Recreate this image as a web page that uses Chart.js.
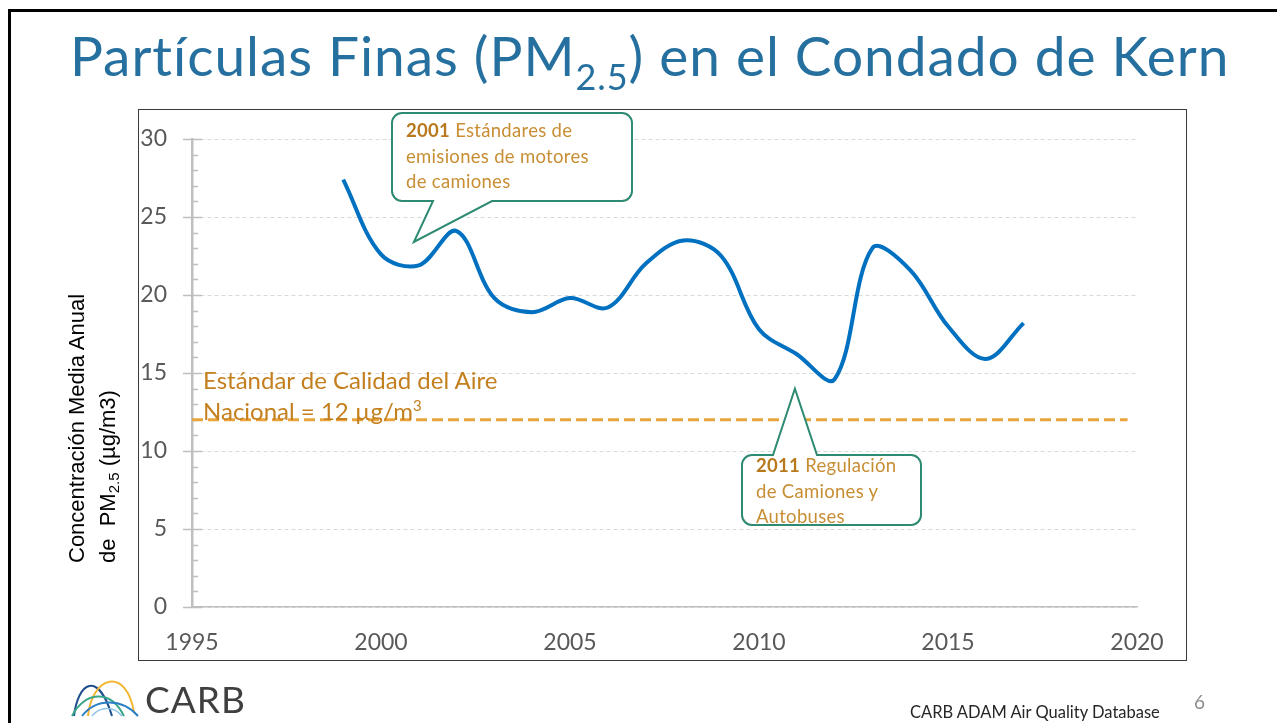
<!DOCTYPE html>
<html>
<head>
<meta charset="utf-8">
<script src="https://cdn.jsdelivr.net/npm/chart.js@4.4.1/dist/chart.umd.min.js"></script>
<style>
  html, body { margin: 0; padding: 0; background: #fff; }
  #slide { position: relative; width: 1277px; height: 723px; overflow: hidden; font-family: Lato, "Open Sans", sans-serif; }
  #myChart { position: absolute; left: 0; top: 0; }
  .abs { position: absolute; white-space: nowrap; }
  #frameTop { left: 8px; top: 9px; width: 1269px; height: 3px; background: #000; }
  #frameLeft { left: 8px; top: 9px; width: 3px; height: 714px; background: #000; }
  #chartBox { left: 138px; top: 109px; width: 1047px; height: 550px; border: 1px solid #3a3a3a; }
  #title { left: 70px; top: 22px; font-size: 55px; color: #26709f; font-weight: 400; letter-spacing: 0.95px; }
  #title sub { font-size: 36px; vertical-align: -14px; line-height: 0; }
  #yTitle { left: 61px; top: 563px; transform-origin: 0 0; transform: rotate(-90deg);
            font-family: "Liberation Sans", Arial, sans-serif; font-size: 22px; line-height: 31px; color: #000; }
  #yTitle sub { font-size: 15px; vertical-align: -4px; line-height: 0; }
  #stdNote { left: 203px; top: 364px; font-size: 24px; line-height: 31px; color: #c47f1e; }
  #stdNote sup { font-size: 15px; vertical-align: 9px; line-height: 0; }
  .note { font-size: 18.5px; line-height: 25.5px; color: #c88e34; letter-spacing: 0.3px; }
  .note b { color: #b8791c; font-weight: 700; }
  #note1 { left: 406px; top: 118px; }
  #note2 { left: 756px; top: 453px; }
  #carbText { left: 145px; top: 676px; font-size: 37px; color: #3f3f3f; letter-spacing: 1px; }
  #source { left: 910px; top: 702px; font-size: 16.5px; color: #262626; }
  #pageNum { left: 1194px; top: 690px; font-size: 19px; color: #8c8c8c; }
  #logo { left: 70px; top: 672px; }
</style>
</head>
<body>
<div id="slide">
  <div class="abs" id="frameTop"></div>
  <div class="abs" id="frameLeft"></div>
  <div class="abs" id="chartBox"></div>
  <canvas id="myChart" width="1277" height="723"></canvas>
  <div class="abs" id="title">Partículas Finas (PM<sub>2.5</sub>) en el Condado de Kern</div>
  <div class="abs" id="yTitle">Concentración Media Anual<br>de&nbsp; PM<sub>2.5</sub> (µg/m3)</div>
  <div class="abs" id="stdNote">Estándar de Calidad del Aire<br>Nacional = 12 µg/m<sup>3</sup></div>
  <div class="abs note" id="note1"><b>2001</b> Estándares de<br>emisiones de motores<br>de camiones</div>
  <div class="abs note" id="note2"><b>2011</b> Regulación<br>de Camiones y<br>Autobuses</div>
  <svg class="abs" id="logo" width="72" height="46" viewBox="0 0 72 46">
    <path d="M4 44 C 8 10, 28 -2, 42 44" fill="none" stroke="#1f4e8c" stroke-width="2"/>
    <path d="M18 44 C 22 4, 56 -6, 64 40" fill="none" stroke="#f2b632" stroke-width="2"/>
    <path d="M2 44 C 14 20, 40 16, 54 44" fill="none" stroke="#3aa68a" stroke-width="2"/>
    <path d="M12 44 C 26 26, 52 26, 68 44" fill="none" stroke="#2a7fc7" stroke-width="2"/>
    <path d="M22 44 C 30 34, 44 34, 52 44" fill="none" stroke="#8fc3e8" stroke-width="1.5"/>
  </svg>
  <div class="abs" id="carbText">CARB</div>
  <div class="abs" id="source">CARB ADAM Air Quality Database</div>
  <div class="abs" id="pageNum">6</div>
</div>

<script>
const years = [1999, 2000, 2001, 2002, 2003, 2004, 2005, 2006, 2007, 2008,
               2009, 2010, 2011, 2012, 2013, 2014, 2015, 2016, 2017];
const pm25 = [27.4, 22.6, 21.9, 24.1, 19.8, 18.9, 19.8, 19.2, 22.0, 23.5,
              22.5, 17.8, 16.2, 14.6, 23.0, 21.6, 18.0, 15.9, 18.2];
const standardYears = [1995, 2019.75];
const standardValues = [12, 12];
const yTicks = [0, 5, 10, 15, 20, 25, 30];
const xTicks = [1995, 2000, 2005, 2010, 2015, 2020];
// callout pointer tips (year, value)
const callouts = [
  {year: 2000.87, value: 23.4},
  {year: 2010.95, value: 14.0}
];

const tickFont = {family: 'Lato, "Open Sans", sans-serif', size: 23};

const axisDecor = {
  id: 'axisDecor',
  beforeDatasetsDraw(chart) {
    const ctx = chart.ctx;
    const y = chart.scales.y;
    const x0 = Math.round(y.left + y.width) ;
    ctx.save();
    ctx.strokeStyle = '#bfbfbf';
    ctx.lineWidth = 1.5;
    for (let v = 0; v <= 30; v++) {
      const py = Math.round(y.getPixelForValue(v)) + 0.5;
      ctx.beginPath();
      if (v % 5 === 0) {
        ctx.moveTo(x0 - 9, py);
        ctx.lineTo(x0 + 10, py);
      } else {
        ctx.moveTo(x0, py);
        ctx.lineTo(x0 + 6, py);
      }
      ctx.stroke();
    }
    ctx.restore();
  },
  afterDatasetsDraw(chart) {
    const ctx = chart.ctx;
    const sx = chart.scales.x, sy = chart.scales.y;
    const boxes = [
      {l: 392, t: 113, r: 632, b: 201, bl: 433, br: 492},
      {l: 742, t: 455, r: 921, b: 525, bl: 773, br: 817, top: true}
    ];
    ctx.save();
    ctx.strokeStyle = '#2e8a72';
    ctx.lineWidth = 2;
    ctx.fillStyle = '#ffffff';
    boxes.forEach((bx, i) => {
      const tx = sx.getPixelForValue(callouts[i].year);
      const ty = sy.getPixelForValue(callouts[i].value);
      const rad = 10;
      ctx.beginPath();
      ctx.moveTo(bx.l + rad, bx.t);
      if (bx.top) {
        ctx.lineTo(bx.bl, bx.t);
        ctx.lineTo(tx, ty);
        ctx.lineTo(bx.br, bx.t);
      }
      ctx.lineTo(bx.r - rad, bx.t);
      ctx.arcTo(bx.r, bx.t, bx.r, bx.t + rad, rad);
      ctx.lineTo(bx.r, bx.b - rad);
      ctx.arcTo(bx.r, bx.b, bx.r - rad, bx.b, rad);
      if (!bx.top) {
        ctx.lineTo(bx.br, bx.b);
        ctx.lineTo(tx, ty);
        ctx.lineTo(bx.bl, bx.b);
      }
      ctx.lineTo(bx.l + rad, bx.b);
      ctx.arcTo(bx.l, bx.b, bx.l, bx.b - rad, rad);
      ctx.lineTo(bx.l, bx.t + rad);
      ctx.arcTo(bx.l, bx.t, bx.l + rad, bx.t, rad);
      ctx.closePath();
      ctx.fill();
      ctx.stroke();
    });
    ctx.restore();
  }
};

const data = {
  datasets: [{
    label: 'PM2.5',
    data: years.map((yr, i) => ({x: yr, y: pm25[i]})),
    borderColor: '#0070c0',
    borderWidth: 4,
    pointRadius: 0,
    tension: 0.35,
    fill: false
  }, {
    label: 'Estándar',
    data: standardYears.map((yr, i) => ({x: yr, y: standardValues[i]})),
    borderColor: '#eaa43c',
    borderWidth: 3,
    borderDash: [11, 5],
    pointRadius: 0,
    fill: false
  }]
};

const config = {
  type: 'line',
  data: data,
  options: {
    responsive: false,
    devicePixelRatio: 1,
    animation: false,
    layout: {
      padding: {left: 0, top: 139, right: 140, bottom: 0}
    },
    plugins: {
      legend: {display: false},
      tooltip: {enabled: false}
    },
    scales: {
      x: {
        type: 'linear',
        min: 1995,
        max: 2020,
        afterBuildTicks: s => { s.ticks = xTicks.map(v => ({value: v})); },
        afterFit: s => { s.height = 116; },
        grid: {display: false, drawTicks: false},
        border: {display: true, color: '#bfbfbf', width: 1.5},
        ticks: {color: '#595959', font: tickFont, padding: 22, maxRotation: 0,
                callback: v => String(v)}
      },
      y: {
        min: 0,
        max: 30,
        afterBuildTicks: s => { s.ticks = yTicks.map(v => ({value: v})); },
        afterFit: s => { s.width = 192; },
        grid: {color: '#d9d9d9', lineWidth: 1, drawTicks: false},
        border: {display: true, color: '#bfbfbf', width: 2.5, dash: [4, 3]},
        ticks: {color: '#595959', font: tickFont, padding: 25}
      }
    }
  },
  plugins: [axisDecor]
};

let myChart = document.getElementById('myChart').getContext('2d');
let pmChart = new Chart(myChart, config);
</script>
</body>
</html>
